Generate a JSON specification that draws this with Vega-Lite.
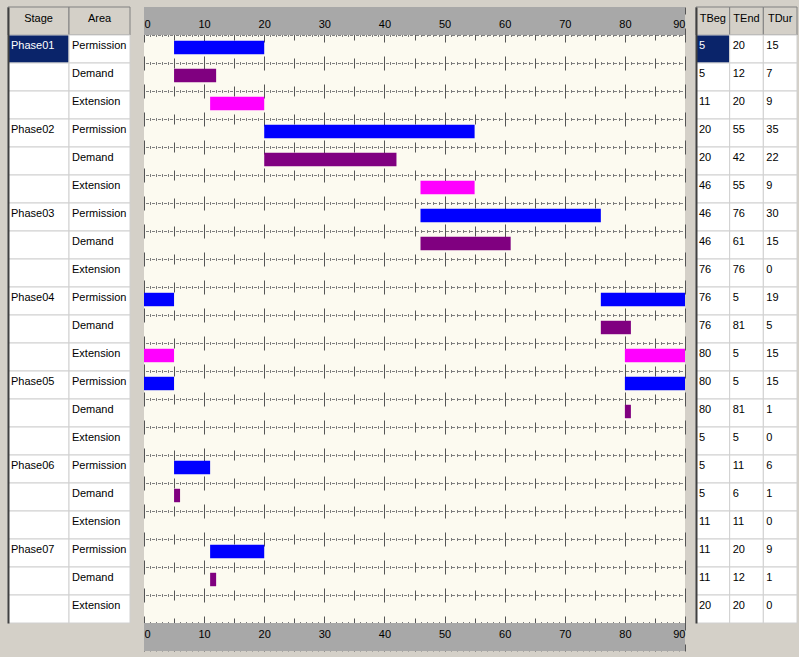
{
  "$schema": "https://vega.github.io/schema/vega-lite/v6.json",
  "padding": {"left": 7, "top": 6, "right": 2, "bottom": 7},
  "background": "#d4d0c8",
  "config": {"view": {"stroke": null}},
  "datasets": {
    "tasks": [
      {"row": 1, "Stage": "Phase01", "Area": "Permission", "TBeg": 5, "TEnd": 20, "TDur": 15},
      {"row": 2, "Stage": "", "Area": "Demand", "TBeg": 5, "TEnd": 12, "TDur": 7},
      {"row": 3, "Stage": "", "Area": "Extension", "TBeg": 11, "TEnd": 20, "TDur": 9},
      {"row": 4, "Stage": "Phase02", "Area": "Permission", "TBeg": 20, "TEnd": 55, "TDur": 35},
      {"row": 5, "Stage": "", "Area": "Demand", "TBeg": 20, "TEnd": 42, "TDur": 22},
      {"row": 6, "Stage": "", "Area": "Extension", "TBeg": 46, "TEnd": 55, "TDur": 9},
      {"row": 7, "Stage": "Phase03", "Area": "Permission", "TBeg": 46, "TEnd": 76, "TDur": 30},
      {"row": 8, "Stage": "", "Area": "Demand", "TBeg": 46, "TEnd": 61, "TDur": 15},
      {"row": 9, "Stage": "", "Area": "Extension", "TBeg": 76, "TEnd": 76, "TDur": 0},
      {"row": 10, "Stage": "Phase04", "Area": "Permission", "TBeg": 76, "TEnd": 5, "TDur": 19},
      {"row": 11, "Stage": "", "Area": "Demand", "TBeg": 76, "TEnd": 81, "TDur": 5},
      {"row": 12, "Stage": "", "Area": "Extension", "TBeg": 80, "TEnd": 5, "TDur": 15},
      {"row": 13, "Stage": "Phase05", "Area": "Permission", "TBeg": 80, "TEnd": 5, "TDur": 15},
      {"row": 14, "Stage": "", "Area": "Demand", "TBeg": 80, "TEnd": 81, "TDur": 1},
      {"row": 15, "Stage": "", "Area": "Extension", "TBeg": 5, "TEnd": 5, "TDur": 0},
      {"row": 16, "Stage": "Phase06", "Area": "Permission", "TBeg": 5, "TEnd": 11, "TDur": 6},
      {"row": 17, "Stage": "", "Area": "Demand", "TBeg": 5, "TEnd": 6, "TDur": 1},
      {"row": 18, "Stage": "", "Area": "Extension", "TBeg": 11, "TEnd": 11, "TDur": 0},
      {"row": 19, "Stage": "Phase07", "Area": "Permission", "TBeg": 11, "TEnd": 20, "TDur": 9},
      {"row": 20, "Stage": "", "Area": "Demand", "TBeg": 11, "TEnd": 12, "TDur": 1},
      {"row": 21, "Stage": "", "Area": "Extension", "TBeg": 20, "TEnd": 20, "TDur": 0}
    ],
    "segments": [
      {"row": 1, "area": "Permission", "start": 5, "end": 20},
      {"row": 2, "area": "Demand", "start": 5, "end": 12},
      {"row": 3, "area": "Extension", "start": 11, "end": 20},
      {"row": 4, "area": "Permission", "start": 20, "end": 55},
      {"row": 5, "area": "Demand", "start": 20, "end": 42},
      {"row": 6, "area": "Extension", "start": 46, "end": 55},
      {"row": 7, "area": "Permission", "start": 46, "end": 76},
      {"row": 8, "area": "Demand", "start": 46, "end": 61},
      {"row": 9, "area": "Extension", "start": 76, "end": 76},
      {"row": 10, "area": "Permission", "start": 76, "end": 90},
      {"row": 10, "area": "Permission", "start": 0, "end": 5},
      {"row": 11, "area": "Demand", "start": 76, "end": 81},
      {"row": 12, "area": "Extension", "start": 80, "end": 90},
      {"row": 12, "area": "Extension", "start": 0, "end": 5},
      {"row": 13, "area": "Permission", "start": 80, "end": 90},
      {"row": 13, "area": "Permission", "start": 0, "end": 5},
      {"row": 14, "area": "Demand", "start": 80, "end": 81},
      {"row": 15, "area": "Extension", "start": 5, "end": 5},
      {"row": 16, "area": "Permission", "start": 5, "end": 11},
      {"row": 17, "area": "Demand", "start": 5, "end": 6},
      {"row": 18, "area": "Extension", "start": 11, "end": 11},
      {"row": 19, "area": "Permission", "start": 11, "end": 20},
      {"row": 20, "area": "Demand", "start": 11, "end": 12},
      {"row": 21, "area": "Extension", "start": 20, "end": 20}
    ]
  },
  "spacing": 14,
  "bounds": "flush",
  "hconcat": [
    {
      "width": 122,
      "height": 616,
      "resolve": {"axis": {"x": "independent", "y": "independent"}},
      "layer": [
        {
          "data": {"values": [{"key": "Stage", "row": 0}, {"key": "Area", "row": 0}]},
          "mark": {"type": "rect", "fill": "#d4d0c8", "stroke": "#808080", "strokeWidth": 1},
          "encoding": {
            "x": {"field": "key", "type": "nominal", "scale": {"type": "band", "domain": ["Stage", "Area"], "paddingInner": 0, "paddingOuter": 0}, "axis": null},
            "y": {"field": "row", "type": "ordinal", "scale": {"type": "band", "domain": [0,1,2,3,4,5,6,7,8,9,10,11,12,13,14,15,16,17,18,19,20,21], "paddingInner": 0, "paddingOuter": 0}, "axis": null}
          }
        },
        {
          "data": {"values": [{"key": "Stage", "row": 0}, {"key": "Area", "row": 0}]},
          "mark": {"type": "text", "align": "center", "baseline": "middle", "dy": -2, "font": "Liberation Sans", "fontSize": 11, "color": "black"},
          "encoding": {
            "x": {"field": "key", "type": "nominal", "axis": null},
            "y": {"field": "row", "type": "ordinal", "axis": null},
            "text": {"field": "key"}
          }
        },
        {
          "data": {"name": "tasks"},
          "transform": [{"fold": ["Stage", "Area"], "as": ["key", "value"]}],
          "mark": {"type": "rect", "stroke": "#d0d0d0", "strokeWidth": 1},
          "encoding": {
            "x": {"field": "key", "type": "nominal", "axis": null},
            "y": {"field": "row", "type": "ordinal", "axis": {"orient": "left", "domain": true, "domainColor": "#404040", "domainWidth": 2, "labels": false, "ticks": false, "grid": false, "title": null}},
            "fill": {"condition": {"test": "datum.row === 1 && datum.key === 'Stage'", "value": "#0a246a"}, "value": "#ffffff"}
          }
        },
        {
          "data": {"name": "tasks"},
          "transform": [{"fold": ["Stage", "Area"], "as": ["key", "value"]}],
          "mark": {"type": "text", "align": "left", "baseline": "top", "dx": 3, "dy": 5, "font": "Liberation Sans", "fontSize": 11},
          "encoding": {
            "x": {"field": "key", "type": "nominal", "bandPosition": 0, "axis": null},
            "y": {"field": "row", "type": "ordinal", "bandPosition": 0, "axis": null},
            "text": {"field": "value"},
            "color": {"condition": {"test": "datum.row === 1 && datum.key === 'Stage'", "value": "#ffffff"}, "value": "#000000"}
          }
        }
      ]
    },
    {
      "spacing": 11,
      "bounds": "flush",
      "hconcat": [
        {
          "width": 541,
          "height": 644,
          "view": {"fill": "#fcfaf0", "stroke": null},
          "resolve": {"axis": {"x": "independent", "y": "independent"}},
          "layer": [
            {
              "data": {"values": [{"row": 0}, {"row": 22}]},
              "mark": {"type": "rect", "fill": "#a8a8a8"},
              "encoding": {
                "x": {
                  "datum": 0, "type": "quantitative",
                  "scale": {"domain": [0, 90], "nice": false, "zero": false},
                  "axis": {
                    "orient": "top", "tickCount": 90, "labels": false, "ticks": false, "domain": false, "title": null,
                    "grid": true, "gridWidth": 1, "gridOpacity": 1, "zindex": 0,
                    "gridColor": {"condition": {"test": "datum.value % 5 === 0", "value": "#555555"}, "value": "#7a7a7a"},
                    "gridDash": {"condition": [{"test": "datum.value % 10 === 0", "value": [14, 14]}, {"test": "datum.value % 5 === 0", "value": [10, 18]}], "value": [3, 25]},
                    "gridDashOffset": {"condition": [{"test": "datum.value % 10 === 0", "value": 7}, {"test": "datum.value % 5 === 0", "value": 5}], "value": 1.5}
                  }
                },
                "x2": {"datum": 90},
                "y": {
                  "field": "row", "type": "ordinal",
                  "scale": {"type": "band", "domain": [0,1,2,3,4,5,6,7,8,9,10,11,12,13,14,15,16,17,18,19,20,21,22], "paddingInner": 0, "paddingOuter": 0},
                  "axis": {"orient": "left", "bandPosition": 0, "grid": true, "labels": false, "ticks": false, "domain": false, "title": null, "gridColor": "#808080", "gridWidth": 1, "gridOpacity": 1, "gridDash": [3, 3], "gridDashOffset": 4.5, "zindex": 0}
                }
              }
            },
            {
              "data": {"name": "segments"},
              "mark": {"type": "bar", "height": {"band": 0.48}, "yOffset": -1.5},
              "encoding": {
                "x": {
                  "field": "start", "type": "quantitative",
                  "axis": {"orient": "top", "offset": -28, "values": [0, 10, 20, 30, 40, 50, 60, 70, 80, 90], "labelFlush": true, "labelOverlap": false, "domain": false, "ticks": false, "tickSize": 0, "grid": false, "labelPadding": 11, "labelBaseline": "middle", "labelFont": "Liberation Sans", "labelFontSize": 11, "labelColor": "#000000", "title": null, "zindex": 1}
                },
                "x2": {"field": "end"},
                "y": {"field": "row", "type": "ordinal", "axis": null},
                "color": {"field": "area", "type": "nominal", "scale": {"domain": ["Permission", "Demand", "Extension"], "range": ["#0000ff", "#800080", "#ff00ff"]}, "legend": null}
              }
            },
            {
              "data": {"values": [{"row": 22}]},
              "mark": {"type": "rect", "opacity": 0},
              "encoding": {
                "x": {
                  "datum": 0, "type": "quantitative",
                  "axis": {"orient": "bottom", "offset": -28, "values": [0, 10, 20, 30, 40, 50, 60, 70, 80, 90], "labelFlush": true, "labelOverlap": false, "domain": false, "ticks": false, "tickSize": 0, "grid": false, "labelPadding": 11, "labelBaseline": "middle", "labelFont": "Liberation Sans", "labelFontSize": 11, "labelColor": "#000000", "title": null, "zindex": 1}
                },
                "x2": {"datum": 90},
                "y": {"field": "row", "type": "ordinal", "axis": null}
              }
            }
          ]
        },
        {
          "width": 101,
          "height": 616,
          "resolve": {"axis": {"x": "independent", "y": "independent"}},
          "layer": [
            {
              "data": {"values": [{"key": "TBeg", "row": 0}, {"key": "TEnd", "row": 0}, {"key": "TDur", "row": 0}]},
              "mark": {"type": "rect", "fill": "#d4d0c8", "stroke": "#808080", "strokeWidth": 1},
              "encoding": {
                "x": {"field": "key", "type": "nominal", "scale": {"type": "band", "domain": ["TBeg", "TEnd", "TDur"], "paddingInner": 0, "paddingOuter": 0}, "axis": null},
                "y": {"field": "row", "type": "ordinal", "scale": {"type": "band", "domain": [0,1,2,3,4,5,6,7,8,9,10,11,12,13,14,15,16,17,18,19,20,21], "paddingInner": 0, "paddingOuter": 0}, "axis": null}
              }
            },
            {
              "data": {"values": [{"key": "TBeg", "row": 0}, {"key": "TEnd", "row": 0}, {"key": "TDur", "row": 0}]},
              "mark": {"type": "text", "align": "center", "baseline": "middle", "dy": -2, "font": "Liberation Sans", "fontSize": 11, "color": "black"},
              "encoding": {
                "x": {"field": "key", "type": "nominal", "axis": null},
                "y": {"field": "row", "type": "ordinal", "axis": null},
                "text": {"field": "key"}
              }
            },
            {
              "data": {"name": "tasks"},
              "transform": [{"fold": ["TBeg", "TEnd", "TDur"], "as": ["key", "value"]}],
              "mark": {"type": "rect", "stroke": "#d0d0d0", "strokeWidth": 1},
              "encoding": {
                "x": {"field": "key", "type": "nominal", "axis": null},
                "y": {"field": "row", "type": "ordinal", "axis": {"orient": "left", "domain": true, "domainColor": "#404040", "domainWidth": 2, "labels": false, "ticks": false, "grid": false, "title": null}},
                "fill": {"condition": {"test": "datum.row === 1 && datum.key === 'TBeg'", "value": "#0a246a"}, "value": "#ffffff"}
              }
            },
            {
              "data": {"name": "tasks"},
              "transform": [{"fold": ["TBeg", "TEnd", "TDur"], "as": ["key", "value"]}],
              "mark": {"type": "text", "align": "left", "baseline": "top", "dx": 3, "dy": 5, "font": "Liberation Sans", "fontSize": 11},
              "encoding": {
                "x": {"field": "key", "type": "nominal", "bandPosition": 0, "axis": null},
                "y": {"field": "row", "type": "ordinal", "bandPosition": 0, "axis": null},
                "text": {"field": "value"},
                "color": {"condition": {"test": "datum.row === 1 && datum.key === 'TBeg'", "value": "#ffffff"}, "value": "#000000"}
              }
            }
          ]
        }
      ]
    }
  ]
}
